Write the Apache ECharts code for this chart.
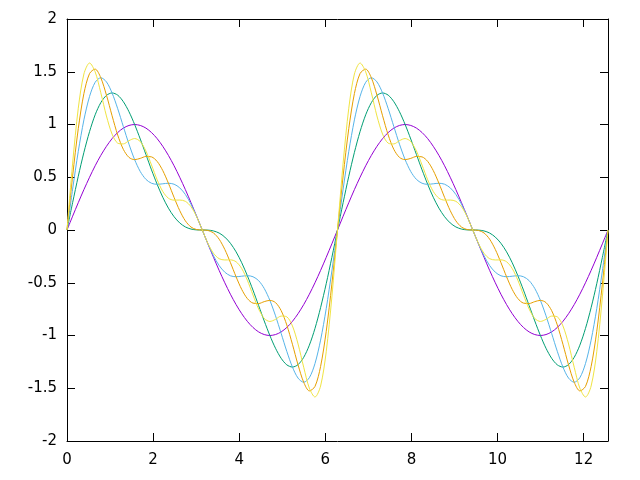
<!DOCTYPE html>
<html><head><meta charset="utf-8">
<script src="https://cdn.jsdelivr.net/npm/echarts@6/dist/echarts.min.js"></script>
<style>html,body{margin:0;padding:0;background:#fff}#c{width:640px;height:480px}</style>
</head><body><div id="c"></div>
<script>
var xs = [0, 0.131, 0.262, 0.393, 0.524, 0.654, 0.785, 0.916, 1.047, 1.178, 1.309, 1.440, 1.571, 1.702, 1.833, 1.963, 2.094, 2.225, 2.356, 2.487, 2.618, 2.749, 2.880, 3.011, 3.142, 3.272, 3.403, 3.534, 3.665, 3.796, 3.927, 4.058, 4.189, 4.320, 4.451, 4.581, 4.712, 4.843, 4.974, 5.105, 5.236, 5.367, 5.498, 5.629, 5.760, 5.890, 6.021, 6.152, 6.283, 6.414, 6.545, 6.676, 6.807, 6.938, 7.069, 7.199, 7.330, 7.461, 7.592, 7.723, 7.854, 7.985, 8.116, 8.247, 8.378, 8.508, 8.639, 8.770, 8.901, 9.032, 9.163, 9.294, 9.425, 9.556, 9.687, 9.817, 9.948, 10.079, 10.210, 10.341, 10.472, 10.603, 10.734, 10.865, 10.996, 11.126, 11.257, 11.388, 11.519, 11.650, 11.781, 11.912, 12.043, 12.174, 12.305, 12.435, 12.566];

var s1 = [0, 0.131, 0.259, 0.383, 0.5, 0.609, 0.707, 0.793, 0.866, 0.924, 0.966, 0.991, 1, 0.991, 0.966, 0.924, 0.866, 0.793, 0.707, 0.609, 0.5, 0.383, 0.259, 0.131, 0, -0.131, -0.259, -0.383, -0.5, -0.609, -0.707, -0.793, -0.866, -0.924, -0.966, -0.991, -1, -0.991, -0.966, -0.924, -0.866, -0.793, -0.707, -0.609, -0.5, -0.383, -0.259, -0.131,
  0, 0.131, 0.259, 0.383, 0.5, 0.609, 0.707, 0.793, 0.866, 0.924, 0.966, 0.991, 1, 0.991, 0.966, 0.924, 0.866, 0.793, 0.707, 0.609, 0.5, 0.383, 0.259, 0.131, 0, -0.131, -0.259, -0.383, -0.5, -0.609, -0.707, -0.793, -0.866, -0.924, -0.966, -0.991, -1, -0.991, -0.966, -0.924, -0.866, -0.793, -0.707, -0.609, -0.5, -0.383, -0.259, -0.131, 0];

var s2 = [0, 0.260, 0.509, 0.736, 0.933, 1.092, 1.207, 1.276, 1.299, 1.278, 1.216, 1.121, 1, 0.862, 0.716, 0.570, 0.433, 0.310, 0.207, 0.126, 0.067, 0.029, 0.009, 0.001, 0, -0.001, -0.009, -0.029, -0.067, -0.126, -0.207, -0.310, -0.433, -0.570, -0.716, -0.862, -1, -1.121, -1.216, -1.278, -1.299, -1.276, -1.207, -1.092, -0.933, -0.736, -0.509, -0.260,
  0, 0.260, 0.509, 0.736, 0.933, 1.092, 1.207, 1.276, 1.299, 1.278, 1.216, 1.121, 1, 0.862, 0.716, 0.570, 0.433, 0.310, 0.207, 0.126, 0.067, 0.029, 0.009, 0.001, 0, -0.001, -0.009, -0.029, -0.067, -0.126, -0.207, -0.310, -0.433, -0.570, -0.716, -0.862, -1, -1.121, -1.216, -1.278, -1.299, -1.276, -1.207, -1.092, -0.933, -0.736, -0.509, -0.260, 0];

var s3 = [0, 0.388, 0.745, 1.044, 1.266, 1.400, 1.443, 1.404, 1.299, 1.150, 0.980, 0.813, 0.667, 0.554, 0.480, 0.443, 0.433, 0.438, 0.443, 0.434, 0.400, 0.337, 0.245, 0.129, 0, -0.129, -0.245, -0.337, -0.400, -0.434, -0.443, -0.438, -0.433, -0.443, -0.480, -0.554, -0.667, -0.813, -0.980, -1.150, -1.299, -1.404, -1.443, -1.400, -1.266, -1.044, -0.745, -0.388,
  0, 0.388, 0.745, 1.044, 1.266, 1.400, 1.443, 1.404, 1.299, 1.150, 0.980, 0.813, 0.667, 0.554, 0.480, 0.443, 0.433, 0.438, 0.443, 0.434, 0.400, 0.337, 0.245, 0.129, 0, -0.129, -0.245, -0.337, -0.400, -0.434, -0.443, -0.438, -0.433, -0.443, -0.480, -0.554, -0.667, -0.813, -0.980, -1.150, -1.299, -1.404, -1.443, -1.400, -1.266, -1.044, -0.745, -0.388, 0];

var s4 = [0, 0.513, 0.961, 1.294, 1.483, 1.525, 1.443, 1.279, 1.083, 0.900, 0.764, 0.688, 0.667, 0.679, 0.697, 0.693, 0.650, 0.563, 0.443, 0.309, 0.184, 0.087, 0.028, 0.004, 0, -0.004, -0.028, -0.087, -0.184, -0.309, -0.443, -0.563, -0.650, -0.693, -0.697, -0.679, -0.667, -0.688, -0.764, -0.900, -1.083, -1.279, -1.443, -1.525, -1.483, -1.294, -0.961, -0.513,
  0, 0.513, 0.961, 1.294, 1.483, 1.525, 1.443, 1.279, 1.083, 0.900, 0.764, 0.688, 0.667, 0.679, 0.697, 0.693, 0.650, 0.563, 0.443, 0.309, 0.184, 0.087, 0.028, 0.004, 0, -0.004, -0.028, -0.087, -0.184, -0.309, -0.443, -0.563, -0.650, -0.693, -0.697, -0.679, -0.667, -0.688, -0.764, -0.900, -1.083, -1.279, -1.443, -1.525, -1.483, -1.294, -0.961, -0.513, 0];

var s5 = [0, 0.634, 1.154, 1.479, 1.583, 1.499, 1.301, 1.081, 0.909, 0.823, 0.816, 0.847, 0.867, 0.838, 0.749, 0.616, 0.476, 0.365, 0.301, 0.283, 0.284, 0.272, 0.221, 0.126, 0, -0.126, -0.221, -0.272, -0.284, -0.283, -0.301, -0.365, -0.476, -0.616, -0.749, -0.838, -0.867, -0.847, -0.816, -0.823, -0.909, -1.081, -1.301, -1.499, -1.583, -1.479, -1.154, -0.634,
  0, 0.634, 1.154, 1.479, 1.583, 1.499, 1.301, 1.081, 0.909, 0.823, 0.816, 0.847, 0.867, 0.838, 0.749, 0.616, 0.476, 0.365, 0.301, 0.283, 0.284, 0.272, 0.221, 0.126, 0, -0.126, -0.221, -0.272, -0.284, -0.283, -0.301, -0.365, -0.476, -0.616, -0.749, -0.838, -0.867, -0.847, -0.816, -0.823, -0.909, -1.081, -1.301, -1.499, -1.583, -1.479, -1.154, -0.634, 0];

var seriesValues = [s1, s2, s3, s4, s5];
var seriesNames = ['n=1', 'n=2', 'n=3', 'n=4', 'n=5'];
var seriesColors = ['#9400d3', '#009e73', '#56b4e9', '#e69f00', '#f0e442'];
var xMin = 0, xMax = 12.566, xStep = 2;
var xTickValues = [0, 2, 4, 6, 8, 10, 12];
var yMin = -2, yMax = 2, yStep = 0.5;

var font = {fontFamily: 'DejaVu Sans', fontSize: 15, color: '#000'};
function xAx(pos, show) {
  return {
    type: 'value', position: pos, min: xMin, max: xMax, interval: xStep,
    axisLine: {show: true, onZero: false, lineStyle: {color: '#000', width: 1}},
    axisTick: {show: true, inside: true, length: 8, lineStyle: {color: '#000', width: 1},
      customValues: xTickValues},
    axisLabel: {show: show, margin: 12, fontFamily: font.fontFamily, fontSize: font.fontSize, color: font.color,
      customValues: xTickValues},
    splitLine: {show: false}
  };
}
function yAx(pos, show) {
  return {
    type: 'value', position: pos, min: yMin, max: yMax, interval: yStep,
    axisLine: {show: true, onZero: false, lineStyle: {color: '#000', width: 1}},
    axisTick: {show: true, inside: true, length: 8, lineStyle: {color: '#000', width: 1}},
    axisLabel: {show: show, margin: 10, fontFamily: font.fontFamily, fontSize: font.fontSize, color: font.color},
    splitLine: {show: false}
  };
}
var chart = echarts.init(document.getElementById('c'), null, {renderer: 'canvas'});
chart.setOption({
  animation: false,
  backgroundColor: '#fff',
  grid: {left: 67, right: 32, top: 19, bottom: 39, containLabel: false},
  xAxis: [xAx('bottom', true), xAx('top', false)],
  yAxis: [yAx('left', true), yAx('right', false)],
  series: seriesValues.map(function (vals, k) {
    return {
      name: seriesNames[k], type: 'line', xAxisIndex: 0, yAxisIndex: 0,
      showSymbol: false, symbol: 'none', smooth: 0.3,
      lineStyle: {color: seriesColors[k], width: 1},
      data: xs.map(function (x, i) { return [x, vals[i]]; })
    };
  })
});
</script></body></html>
